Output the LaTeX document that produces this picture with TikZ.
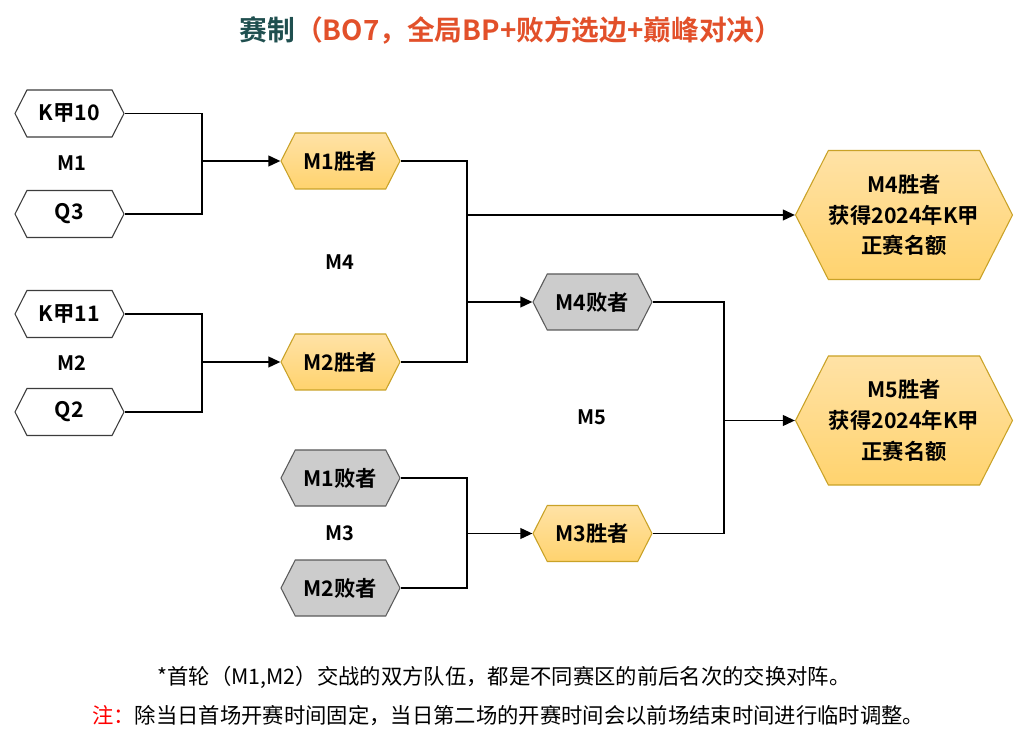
\documentclass[tikz,border=0pt]{standalone}
\usepackage{fontspec}
\setmainfont{Noto Sans CJK SC}[BoldFont={Noto Sans CJK SC Bold}]
\usetikzlibrary{shapes.symbols}
\usetikzlibrary{arrows.meta}

\definecolor{titleteal}{HTML}{1F4F4F}
\definecolor{titleorange}{HTML}{E2502A}
\definecolor{winfilltop}{HTML}{FFE2A6}
\definecolor{winfillbot}{HTML}{FFD36E}
\definecolor{winline}{HTML}{C9A227}
\definecolor{losefill}{HTML}{CCCCCC}
\definecolor{loseline}{HTML}{5A5A5A}
\definecolor{teamline}{HTML}{3C3C3C}

\tikzset{
  hexbox/.style={shape=signal, signal to=west and east, signal pointer angle=126,
    inner sep=0pt, line width=0.8pt, font=\bfseries\fontsize{16}{23}\selectfont, align=center},
  team/.style={hexbox, draw=teamline, fill=white, minimum width=81.75pt, minimum height=35.25pt},
  winner/.style={hexbox, draw=winline, top color=winfilltop, bottom color=winfillbot,
    minimum width=89.25pt, minimum height=42pt},
  loser/.style={hexbox, draw=loseline, fill=losefill, minimum width=89.25pt, minimum height=42pt},
  final/.style={winner, minimum width=162.75pt, minimum height=96.75pt},
  tag/.style={font=\bfseries\fontsize{15}{18}\selectfont},
  note/.style={font=\fontsize{16}{18}\selectfont},
  link/.style={line width=1.4pt},
}

\begin{document}
\begin{tikzpicture}[x=0.75pt,y=-0.75pt,>={Triangle[length=9pt,width=8pt]}]
    \useasboundingbox (0,0) rectangle (1024,737);
    % title
    \node[font=\bfseries\fontsize{20.8}{24}\selectfont] (title) at (511,30)
        {\textcolor{titleteal}{赛制}\textcolor{titleorange}{（BO7，全局BP+败方选边+巅峰对决）}};
    % first round
    \node[team] (k10) at (69.5,113.5) {K甲10};
    \node[team] (q3) at (69.5,214) {Q3};
    \node[team] (k11) at (69.5,314) {K甲11};
    \node[team] (q2) at (69.5,412) {Q2};
    \node[tag] (m1tag) at (72,163) {M1};
    \node[tag] (m2tag) at (72,363) {M2};
    % second round
    \node[winner] (m1win) at (340.5,161) {M1胜者};
    \node[winner] (m2win) at (340.5,362) {M2胜者};
    \node[loser] (m1lose) at (340.5,478) {M1败者};
    \node[loser] (m2lose) at (340.5,588) {M2败者};
    \node[tag] (m4tag) at (340,262) {M4};
    \node[tag] (m3tag) at (340,533) {M3};
    % third round
    \node[loser] (m4lose) at (592.5,302) {M4败者};
    \node[winner] (m3win) at (592.5,533.5) {M3胜者};
    \node[tag] (m5tag) at (592,417) {M5};
    \node[final] (m4final) at (904,215) {M4胜者\\获得2024年K甲\\正赛名额};
    \node[final] (m5final) at (904,420.5) {M5胜者\\获得2024年K甲\\正赛名额};
    % junctions
    \coordinate (j1) at (202,161);
    \coordinate (j2) at (202,362);
    \coordinate (j4) at (467,215);
    \coordinate (j4b) at (467,302);
    \coordinate (j3) at (467,533.5);
    \coordinate (j5) at (724,420.5);
    \draw[link] (k10.east) -| (j1) |- (q3.east);
    \draw[link,->] (j1) -- (m1win.west);
    \draw[link] (k11.east) -| (j2) |- (q2.east);
    \draw[link,->] (j2) -- (m2win.west);
    \draw[link] (m1win.east) -| (j4) |- (m2win.east);
    \draw[link,->] (j4) -- (m4final.west);
    \draw[link,->] (j4b) -- (m4lose.west);
    \draw[link] (m1lose.east) -| (j3) |- (m2lose.east);
    \draw[link,->] (j3) -- (m3win.west);
    \draw[link] (m4lose.east) -| (j5) |- (m3win.east);
    \draw[link,->] (j5) -- (m5final.west);
    % notes
    \node[note] (note1) at (504,677) {*首轮（M1,M2）交战的双方队伍，都是不同赛区的前后名次的交换对阵。};
    \node[note] (note2) at (508,716) {\textcolor{red}{注：}除当日首场开赛时间固定，当日第二场的开赛时间会以前场结束时间进行临时调整。};
\end{tikzpicture}
\end{document}
